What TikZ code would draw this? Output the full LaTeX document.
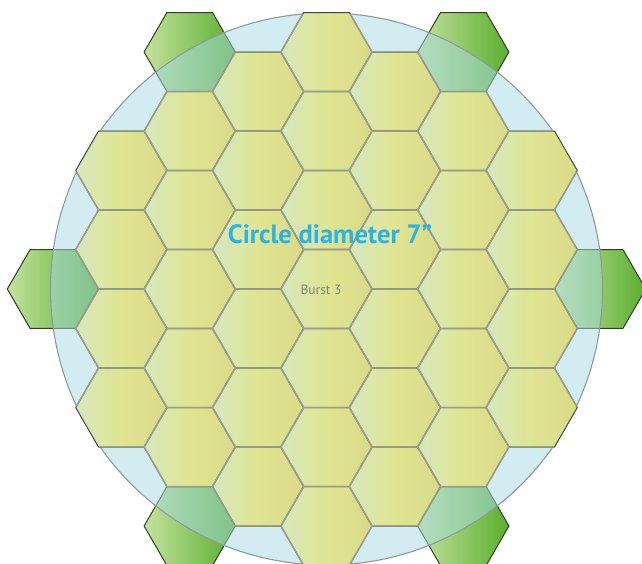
\documentclass[tikz,border=0pt]{standalone}
\usepackage{fontspec}
\setmainfont{PT Sans}
\definecolor{hexline}{HTML}{9A9D8C}
\definecolor{hexdark}{HTML}{44473A}
\definecolor{yelL}{HTML}{D7E7BE}
\definecolor{yelM}{HTML}{E0E592}
\definecolor{yelR}{HTML}{D9DA88}
\definecolor{grnL}{HTML}{C4E29E}
\definecolor{grnR}{HTML}{5AAE2E}
\definecolor{grnline}{HTML}{2F3F22}
\definecolor{circfill}{HTML}{A7D9E3}
\definecolor{circline}{HTML}{8D9B9E}
\definecolor{titleblue}{HTML}{2AB4E6}
\definecolor{burstgray}{HTML}{7F8478}
\newcommand{\hexshape}{(0:45.6) -- (60:45.6) -- (120:45.6) -- (180:45.6) -- (240:45.6) -- (300:45.6) -- cycle}
\tikzset{
  yhex/.style={left color=yelL, right color=yelR, middle color=yelM, draw=hexdark, line width=1pt, line join=round},
  yhexline/.style={draw=hexline, line width=1.4pt, line join=round},
  ghex/.style={left color=grnL, right color=grnR, draw=grnline, line width=1pt, line join=round},
  disc/.style={fill=circfill, fill opacity=0.5, draw=circline, line width=1.1pt},
  title/.style={font=\bfseries\fontsize{26.5}{26.5}\selectfont, text=titleblue, anchor=base, inner sep=0pt},
  burst/.style={font=\fontsize{13.5}{13.5}\selectfont, text=burstgray, anchor=base, inner sep=0pt}
}
\begin{document}
\begin{tikzpicture}[x=1pt,y=-1pt]
\useasboundingbox (0,0) rectangle (642,563);
% green corner hexes (beneath the circle)
\foreach \c/\j in {-2/-6, 2/-6, -2/6, 2/6, -4/0, 4/0}{
  \path[ghex, shift={(326.5+68.4*\c, 289+39.5*\j)}] \hexshape;
}
% translucent circle
\path[disc] (326.5,289) circle (276);
% yellow hexes
\foreach \c in {-3,...,3}{
  \pgfmathtruncatemacro{\m}{6-abs(\c)}
  \pgfmathtruncatemacro{\ma}{-\m}
  \pgfmathtruncatemacro{\mb}{-\m+2}
  \foreach \j in {\ma,\mb,...,\m}{
    \path[yhex, shift={(326.5+68.4*\c, 289+39.5*\j)}] \hexshape;
  }
}
% grey outlines inside the circle
\begin{scope}
  \clip (326.5,289) circle (276);
  \foreach \c in {-3,...,3}{
    \pgfmathtruncatemacro{\m}{6-abs(\c)}
    \pgfmathtruncatemacro{\ma}{-\m}
    \pgfmathtruncatemacro{\mb}{-\m+2}
    \foreach \j in {\ma,\mb,...,\m}{
      \path[yhexline, shift={(326.5+68.4*\c, 289+39.5*\j)}] \hexshape;
    }
  }
\end{scope}
\node[title] (tdiam) at (330,243) {Circle diameter 7”};
\node[burst] (tburst) at (321,294) {Burst 3};
\end{tikzpicture}
\end{document}
